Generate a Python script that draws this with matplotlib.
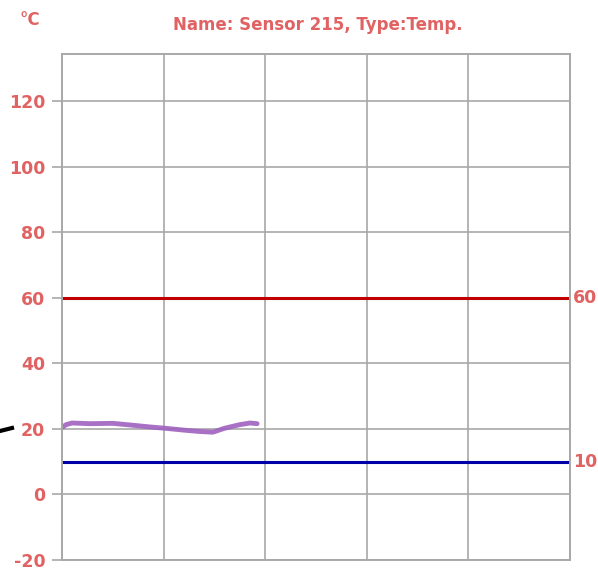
import matplotlib.pyplot as plt
from matplotlib.lines import Line2D

plt.rcParams['axes.unicode_minus'] = False

# sensor reading (x in grid units, 5 columns of 20)
t = [0, 0.8, 2, 5.5, 10, 13.4, 17.3, 20.3, 24.2, 27.2, 29.7, 32, 35, 37, 38.4]
temp = [20.4, 21.3, 21.8, 21.6, 21.7, 21.2, 20.6, 20.2, 19.6, 19.2, 19.0, 20.2, 21.3, 21.8, 21.6]
upper_limit = 60
lower_limit = 10
yticks = [-20, 0, 20, 40, 60, 80, 100, 120]
xgrid = [0, 20, 40, 60, 80, 100]

txtc = '#e06262'
gridc = '#a8a8a8'

fig = plt.figure(figsize=(5.98, 5.68), dpi=100)
ax = fig.add_axes([62/598, 8/568, 508/598, 506/568])

ax.set_xlim(0, 100)
ax.set_ylim(-20, 134.4)
ax.set_xticks(xgrid)
ax.set_yticks(yticks)
ax.grid(True, color=gridc, linewidth=1.2)
ax.set_axisbelow(True)
for s in ax.spines.values():
    s.set_color(gridc)
    s.set_linewidth(1.4)
ax.tick_params(axis='x', length=0, labelbottom=False)
ax.tick_params(axis='y', length=7, width=1.2, color=gridc, labelcolor=txtc,
               labelsize=12.5, pad=5)
for lab in ax.get_yticklabels():
    lab.set_fontweight('bold')

ax.axhline(upper_limit, color='#c00000', linewidth=2.2)
ax.axhline(lower_limit, color='#0000a8', linewidth=2.2)
ax.plot(t, temp, color='#a062c0', linewidth=3.5, alpha=0.9, solid_capstyle='round')

ax.text(100.6, upper_limit, '60', color=txtc, fontsize=12.5, fontweight='bold',
        va='center', ha='left', clip_on=False)
ax.text(100.6, lower_limit, '10', color=txtc, fontsize=12.5, fontweight='bold',
        va='center', ha='left', clip_on=False)

fig.text(318/598, 1 - 25/568, 'Name: Sensor 215, Type:Temp.', color=txtc,
         fontsize=12, fontweight='bold', ha='center', va='center')
fig.text(30/598, 1 - 20/568, '°C', color=txtc, fontsize=12, fontweight='bold',
         ha='center', va='center')

# stray black stroke at left edge
fig.add_artist(Line2D([0, 12/598], [1 - 431/568, 1 - 428/568], color='black',
                      linewidth=3, transform=fig.transFigure))

fig.savefig('out.png', dpi=100)
